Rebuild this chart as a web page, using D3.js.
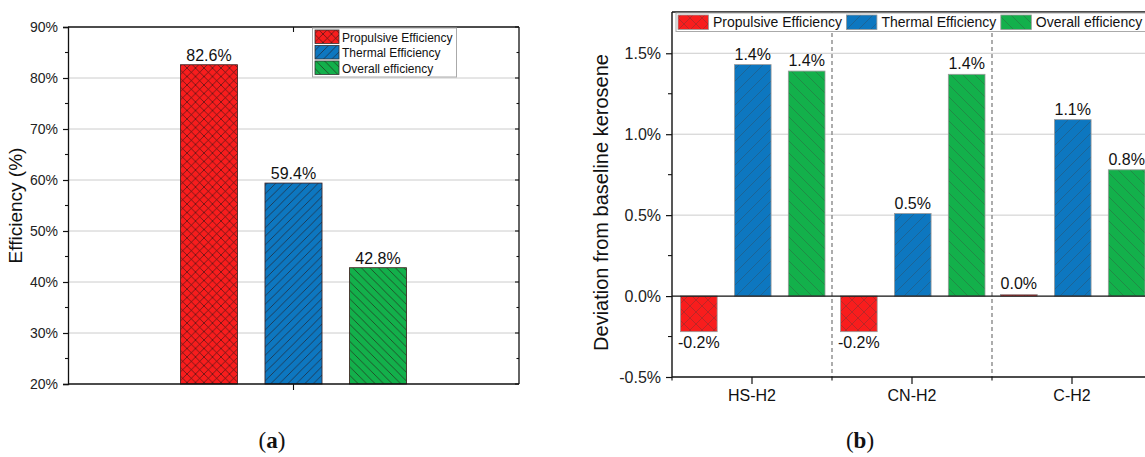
<!DOCTYPE html>
<html>
<head>
<meta charset="utf-8">
<script src="https://cdn.jsdelivr.net/npm/d3@7"></script>
<style>
  body { margin: 0; background: #fff; }
  svg { display: block; font-family: "Liberation Sans", Arial, sans-serif; }
</style>
</head>
<body>
<svg id="chart" width="1145" height="457"></svg>
<script>
// ---- data ----
const seriesNames = ["Propulsive Efficiency", "Thermal Efficiency", "Overall efficiency"];
const seriesColors = ["#f81d1d", "#0d77c0", "#13b04b"];

// panel (a): absolute efficiency of the baseline, %
const efficiencyValues = [82.6, 59.4, 42.8];
const efficiencyTicks = [20, 30, 40, 50, 60, 70, 80, 90];

// panel (b): deviation from baseline kerosene, %
const fuelCases = ["HS-H2", "CN-H2", "C-H2"];
const propulsiveDeviation = [-0.22, -0.22, 0.01];
const thermalDeviation = [1.43, 0.51, 1.09];
const overallDeviation = [1.39, 1.37, 0.78];
const deviationTicks = [-0.5, 0.0, 0.5, 1.0, 1.5];

const svg = d3.select("#chart");
const defs = svg.append("defs");

// hatch patterns: crosshatch, forward diagonal, backward diagonal
function makePatterns(prefix, size, lineColor, lineWidth) {
  const kinds = ["cross", "fwd", "back"];
  kinds.forEach((k, i) => {
    const p = defs.append("pattern")
      .attr("id", prefix + i)
      .attr("patternUnits", "userSpaceOnUse")
      .attr("width", size).attr("height", size);
    p.append("rect").attr("width", size).attr("height", size).attr("fill", seriesColors[i]);
    const g = p.append("g").attr("stroke", lineColor).attr("stroke-width", lineWidth);
    const fwd = () => {
      g.append("line").attr("x1", 0).attr("y1", size).attr("x2", size).attr("y2", 0);
      g.append("line").attr("x1", -size / 2).attr("y1", size / 2).attr("x2", size / 2).attr("y2", -size / 2);
      g.append("line").attr("x1", size / 2).attr("y1", size * 1.5).attr("x2", size * 1.5).attr("y2", size / 2);
    };
    const back = () => {
      g.append("line").attr("x1", 0).attr("y1", 0).attr("x2", size).attr("y2", size);
      g.append("line").attr("x1", size / 2).attr("y1", -size / 2).attr("x2", size * 1.5).attr("y2", size / 2);
      g.append("line").attr("x1", -size / 2).attr("y1", size / 2).attr("x2", size / 2).attr("y2", size * 1.5);
    };
    if (k === "cross") { fwd(); back(); }
    if (k === "fwd") fwd();
    if (k === "back") back();
  });
}
makePatterns("patA", 8.5, "rgba(40,20,20,0.75)", 0.8);
makePatterns("patB", 12, "rgba(60,60,60,0.4)", 0.8);

const fmtPct = d3.format(".0f");

// ================= panel (a) =================
{
  const L = 68, R = 519, T = 27, B = 384;
  const y = d3.scaleLinear().domain([20, 90]).range([B, T]);
  const x = d3.scaleBand().domain(seriesNames).range([L, R])
    .paddingInner(0.325).paddingOuter(1.33);
  const g = svg.append("g");

  // grid
  g.selectAll(".grid").data(efficiencyTicks.filter(t => t > 20 && t < 90)).join("line")
    .attr("x1", L).attr("x2", R).attr("y1", d => y(d)).attr("y2", d => y(d))
    .attr("stroke", "#cccccc").attr("stroke-width", 1);

  // bars
  g.selectAll(".bar").data(efficiencyValues).join("rect")
    .attr("x", (d, i) => x(seriesNames[i]))
    .attr("width", x.bandwidth())
    .attr("y", d => y(d))
    .attr("height", d => y(20) - y(d))
    .attr("fill", (d, i) => `url(#patA${i})`)
    .attr("stroke", "#3a1a1a").attr("stroke-width", 0.8);

  // value labels
  g.selectAll(".val").data(efficiencyValues).join("text")
    .attr("x", (d, i) => x(seriesNames[i]) + x.bandwidth() / 2)
    .attr("y", d => y(d) - 4)
    .attr("text-anchor", "middle").attr("font-size", 16).attr("fill", "#111")
    .text(d => d.toFixed(1) + "%");

  // left axis
  const yAxis = d3.axisLeft(y).tickValues(efficiencyTicks).tickSize(5).tickFormat(d => fmtPct(d) + "%");
  const ya = g.append("g").attr("transform", `translate(${L},0)`).call(yAxis);
  ya.select(".domain").attr("stroke", "#111").attr("stroke-width", 1.3);
  ya.selectAll(".tick line").attr("stroke", "#111").attr("stroke-width", 1.2);
  ya.selectAll(".tick text").attr("font-size", 14).attr("fill", "#222").attr("dx", -2)
    .attr("font-family", "Liberation Sans, Arial, sans-serif");
  // minor ticks
  const minorA = d3.range(25, 90, 10);
  g.selectAll(".minL").data(minorA).join("line")
    .attr("x1", L - 3).attr("x2", L).attr("y1", d => y(d)).attr("y2", d => y(d))
    .attr("stroke", "#111").attr("stroke-width", 1.1);
  // right mirror ticks
  g.selectAll(".majR").data(efficiencyTicks).join("line")
    .attr("x1", R - 4).attr("x2", R).attr("y1", d => y(d)).attr("y2", d => y(d))
    .attr("stroke", "#111").attr("stroke-width", 1.1);
  g.selectAll(".minR").data(minorA).join("line")
    .attr("x1", R - 2.5).attr("x2", R).attr("y1", d => y(d)).attr("y2", d => y(d))
    .attr("stroke", "#111").attr("stroke-width", 1.1);

  // frame
  g.append("line").attr("x1", L).attr("x2", R).attr("y1", B).attr("y2", B).attr("stroke", "#111").attr("stroke-width", 1.3);
  g.append("line").attr("x1", L).attr("x2", R).attr("y1", T).attr("y2", T).attr("stroke", "#111").attr("stroke-width", 1.3);
  g.append("line").attr("x1", R).attr("x2", R).attr("y1", T).attr("y2", B).attr("stroke", "#111").attr("stroke-width", 1.3);
  const cx = (L + R) / 2;
  g.append("line").attr("x1", cx).attr("x2", cx).attr("y1", B).attr("y2", B + 6).attr("stroke", "#111").attr("stroke-width", 1.1);
  g.append("line").attr("x1", cx).attr("x2", cx).attr("y1", T).attr("y2", T + 5).attr("stroke", "#111").attr("stroke-width", 1.1);

  // axis title
  g.append("text").attr("transform", `translate(22,${(T + B) / 2}) rotate(-90)`)
    .attr("text-anchor", "middle").attr("font-size", 19).attr("fill", "#111")
    .text("Efficiency (%)");

  // legend
  const lg = g.append("g");
  lg.append("rect").attr("x", 312.5).attr("y", 28).attr("width", 144).attr("height", 49)
    .attr("fill", "#fff").attr("stroke", "#aaa").attr("stroke-width", 1);
  seriesNames.forEach((s, i) => {
    const yy = 30 + i * 15.5;
    lg.append("rect").attr("x", 315).attr("y", yy).attr("width", 24).attr("height", 13.5)
      .attr("fill", `url(#patA${i})`).attr("stroke", "#333").attr("stroke-width", 0.8);
    lg.append("text").attr("x", 342).attr("y", yy + 11.5).attr("font-size", 12).attr("fill", "#111").text(s);
  });

  svg.append("text").attr("x", 272).attr("y", 448).attr("text-anchor", "middle")
    .attr("font-family", "Liberation Serif, DejaVu Serif, serif").attr("font-size", 23)
    .attr("fill", "#111")
    .html('(<tspan font-weight="bold">a</tspan>)');
}

// ================= panel (b) =================
{
  const L = 672, R = 1152, T = 12, B = 377;
  const y = d3.scaleLinear().domain([-0.5, 1.755]).range([B, T]);
  const x0 = d3.scaleBand().domain(fuelCases).range([L, R]).padding(0);
  const x1 = d3.scaleBand().domain(seriesNames).range([8.5, 153]).paddingInner(0.32).paddingOuter(0);
  const series = [propulsiveDeviation, thermalDeviation, overallDeviation];
  const g = svg.append("g");

  // grid
  g.selectAll(".grid").data([0.5, 1.0, 1.5]).join("line")
    .attr("x1", L).attr("x2", R).attr("y1", d => y(d)).attr("y2", d => y(d))
    .attr("stroke", "#cccccc").attr("stroke-width", 1);

  // group dividers
  g.selectAll(".div").data(fuelCases.slice(1)).join("line")
    .attr("x1", d => x0(d)).attr("x2", d => x0(d)).attr("y1", T).attr("y2", B)
    .attr("stroke", "#8a8a8a").attr("stroke-width", 1.4).attr("stroke-dasharray", "4,3");

  // bars
  const cells = [];
  fuelCases.forEach((c, ci) => series.forEach((vals, si) => cells.push({ c, si, v: vals[ci] })));
  g.selectAll(".bar").data(cells).join("rect")
    .attr("x", d => x0(d.c) + x1(seriesNames[d.si]))
    .attr("width", x1.bandwidth())
    .attr("y", d => y(Math.max(0, d.v)))
    .attr("height", d => Math.abs(y(d.v) - y(0)))
    .attr("fill", d => `url(#patB${d.si})`)
    .attr("stroke", "#9a9a9a").attr("stroke-width", 0.8);

  // value labels
  g.selectAll(".val").data(cells).join("text")
    .attr("x", d => x0(d.c) + x1(seriesNames[d.si]) + x1.bandwidth() / 2)
    .attr("y", d => d.v >= 0 ? y(d.v) - 5 : y(d.v) + 16)
    .attr("text-anchor", "middle").attr("font-size", 16).attr("fill", "#111")
    .text(d => d.v.toFixed(1) + "%");

  // zero line
  g.append("line").attr("x1", L).attr("x2", R).attr("y1", y(0)).attr("y2", y(0))
    .attr("stroke", "#111").attr("stroke-width", 1.3);

  // left axis
  const yAxis = d3.axisLeft(y).tickValues(deviationTicks).tickSize(6).tickFormat(d => d.toFixed(1) + "%");
  const ya = g.append("g").attr("transform", `translate(${L},0)`).call(yAxis);
  ya.select(".domain").remove();
  ya.selectAll(".tick line").attr("stroke", "#111").attr("stroke-width", 1.2);
  ya.selectAll(".tick text").attr("font-size", 16).attr("fill", "#222").attr("dx", -2)
    .attr("font-family", "Liberation Sans, Arial, sans-serif");
  g.append("line").attr("x1", L).attr("x2", L).attr("y1", T).attr("y2", B).attr("stroke", "#111").attr("stroke-width", 1.4);
  g.selectAll(".minL").data([-0.25, 0.25, 0.75, 1.25]).join("line")
    .attr("x1", L - 4).attr("x2", L).attr("y1", d => y(d)).attr("y2", d => y(d))
    .attr("stroke", "#111").attr("stroke-width", 1.1);

  // top and bottom lines
  g.append("line").attr("x1", L).attr("x2", R).attr("y1", T).attr("y2", T).attr("stroke", "#111").attr("stroke-width", 1.3);
  g.append("line").attr("x1", L).attr("x2", R).attr("y1", B).attr("y2", B).attr("stroke", "#111").attr("stroke-width", 1.3);

  // bottom axis: category ticks and boundary ticks
  g.selectAll(".ctick").data(fuelCases).join("line")
    .attr("x1", d => x0(d) + x0.bandwidth() / 2).attr("x2", d => x0(d) + x0.bandwidth() / 2)
    .attr("y1", B).attr("y2", B + 7).attr("stroke", "#111").attr("stroke-width", 1.2);
  g.selectAll(".btick").data(fuelCases).join("line")
    .attr("x1", d => x0(d)).attr("x2", d => x0(d))
    .attr("y1", B).attr("y2", B + 3.5).attr("stroke", "#111").attr("stroke-width", 1.1);
  g.selectAll(".clab").data(fuelCases).join("text")
    .attr("x", d => x0(d) + x0.bandwidth() / 2).attr("y", B + 24)
    .attr("text-anchor", "middle").attr("font-size", 16).attr("fill", "#111").text(d => d);

  // axis title
  g.append("text").attr("transform", `translate(608,${(T + B) / 2 + 8}) rotate(-90)`)
    .attr("text-anchor", "middle").attr("font-size", 20).attr("fill", "#111")
    .text("Deviation from baseline kerosene");

  // legend (single row along the top)
  const lg = g.append("g");
  const box = lg.append("rect").attr("x", 676).attr("y", 13).attr("height", 18.5)
    .attr("fill", "#fff").attr("stroke", "#aaa").attr("stroke-width", 1);
  let cx = 678;
  seriesNames.forEach((s, i) => {
    lg.append("rect").attr("x", cx).attr("y", 15).attr("width", 30.5).attr("height", 14.5)
      .attr("fill", `url(#patB${i})`).attr("stroke", "#999").attr("stroke-width", 0.8);
    const t = lg.append("text").attr("x", cx + 35).attr("y", 27).attr("font-size", 14)
      .attr("fill", "#111").text(s);
    cx = cx + 35 + t.node().getComputedTextLength() + 4.5;
  });
  box.attr("width", cx - 676);

  svg.append("text").attr("x", 860).attr("y", 448).attr("text-anchor", "middle")
    .attr("font-family", "Liberation Serif, DejaVu Serif, serif").attr("font-size", 23)
    .attr("fill", "#111")
    .html('(<tspan font-weight="bold">b</tspan>)');
}
</script>
</body>
</html>
